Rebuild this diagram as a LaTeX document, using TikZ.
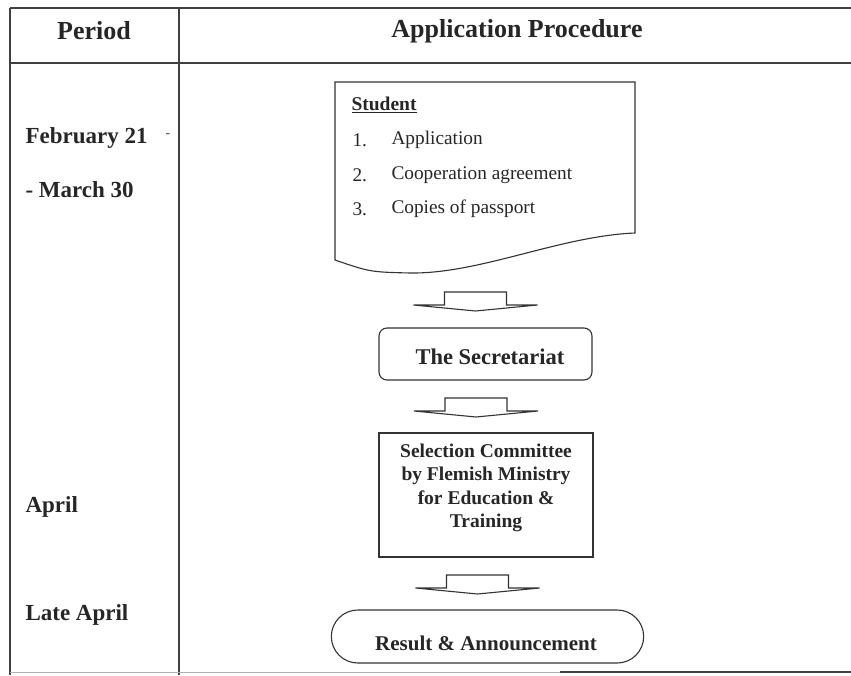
\documentclass[tikz,border=0pt]{standalone}
\usepackage{fontspec}
\setmainfont{Liberation Serif}
\usetikzlibrary{shapes.misc}

% flat block arrow, anchored at the middle of its shoulder line
\newcommand{\flatarrow}[1]{%
  \draw[line width=1.1pt, black!80, fill=white]
    (#1) ++(-31,0) -- ++(0,-13) -- ++(62,0) -- ++(0,13) -- ++(31,0)
    -- ++(-62,6) -- ++(-62,-6) -- cycle;}

\begin{document}
\begin{tikzpicture}[x=1pt,y=-1pt]
  \useasboundingbox (0,0) rectangle (851,675);
  \tikzset{
    rule/.style={line width=1.4pt, black!75},
    head/.style={font=\bfseries\fontsize{26}{30}\selectfont, text=black!85},
    when/.style={anchor=west, font=\bfseries\fontsize{23}{27}\selectfont, text=black!85},
    item/.style={anchor=west, font=\fontsize{19.3}{23}\selectfont, text=black!85},
    boxtext/.style={font=\bfseries\fontsize{22.5}{26}\selectfont, text=black!85}
  }

  % table
  \draw[rule] (10,8) -- (851,8);
  \draw[rule] (10,63) -- (851,63);
  \draw[rule] (10,8) -- (10,675);
  \draw[rule] (179,8) -- (179,675);
  \draw[line width=0.6pt, black!30] (10,672) -- (560,672);
  \draw[rule] (560,672) -- (851,672);

  \node[head] (period) at (94,31) {Period};
  \node[head] (proc) at (517,31) {Application Procedure};

  % periods
  \node[when] (feb) at (22,138) {February 21};
  \node[font=\fontsize{14}{16}\selectfont, text=black!70] (feb-dash) at (168,136) {-};
  \node[when] (mar) at (22,190) {- March 30};
  \node[when] (apr) at (22,507) {April};
  \node[when] (late) at (22,615) {Late April};

  % student document
  \coordinate (doc-nw) at (335,82);
  \coordinate (doc-ne) at (635,82);
  \draw[line width=1.1pt, black!80]
    (doc-nw) -- (doc-ne) -- (635,233)
    .. controls (560,236) and (480,274) .. (410,273)
    .. controls (370,272) .. (335,260) -- cycle;
  \node[anchor=west, font=\bfseries\fontsize{19.5}{23}\selectfont, text=black!85] (student) at (348,105) {\underline{Student}};
  \node[item] (n1) at (349,140) {1.};
  \node[item] (i1) at (388,140) {Application};
  \node[item] (n2) at (349,175) {2.};
  \node[item] (i2) at (388,175) {Cooperation agreement};
  \node[item] (n3) at (349,209) {3.};
  \node[item] (i3) at (388,209) {Copies of passport};

  % steps
  \coordinate (a1) at (475.5,305);
  \flatarrow{a1}

  \node[draw, line width=1.1pt, black!80, rounded corners=8pt,
        minimum width=213pt, minimum height=52pt] (secr) at (485.5,354) {};
  \node[boxtext] (secr-text) at (490,357) {The Secretariat};

  \coordinate (a2) at (476,411);
  \flatarrow{a2}

  \node[draw, line width=1.1pt, black!80,
        minimum width=214pt, minimum height=124pt] (sel) at (486,495) {};
  \node[align=center, font=\bfseries\fontsize{19.5}{23.5}\selectfont, text=black!85] (sel-text) at (486,488)
    {Selection Committee\\by Flemish Ministry\\for Education \&\\Training};

  \coordinate (a3) at (477.5,588);
  \flatarrow{a3}

  \node[draw, line width=1.1pt, black!80, rounded rectangle,
        minimum width=319pt, minimum height=53pt] (res) at (487.5,636.5) {};
  \node[font=\bfseries\fontsize{21}{25}\selectfont, text=black!85] (res-text) at (486,643) {Result \& Announcement};
\end{tikzpicture}
\end{document}
